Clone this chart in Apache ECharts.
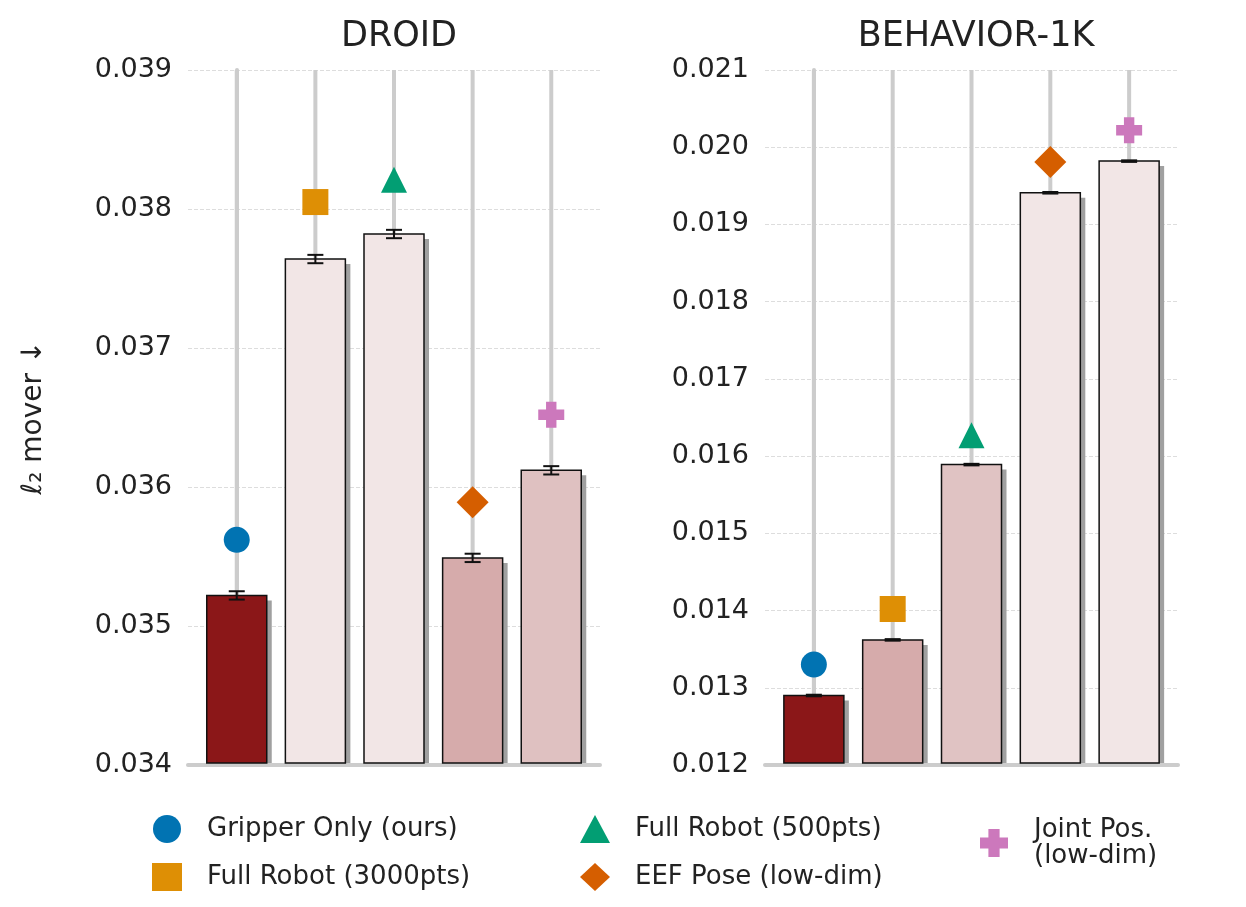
<!DOCTYPE html>
<html>
<head>
<meta charset="utf-8">
<script src="https://cdn.jsdelivr.net/npm/echarts@6/dist/echarts.min.js"></script>
<style>html,body{margin:0;padding:0;background:#fff}#main{width:1246px;height:907px}</style>
</head>
<body>
<div id="main"></div>
<script>
// 数据
var methods = ["Gripper Only (ours)", "Full Robot (3000pts)", "Full Robot (500pts)", "EEF Pose (low-dim)", "Joint Pos.\n(low-dim)"];
var markerColors = ["#0173b2", "#de8f05", "#029e73", "#d55e00", "#cc78bc"];
var markerSymbols = ["circle", "rect", "triangle", "diamond", "path://M3,0H7V3H10V7H7V10H3V7H0V3H3Z"];
var droidBars = [0.03522, 0.03764, 0.03782, 0.03549, 0.03612];
var droidErr = [0.00003, 0.00003, 0.00003, 0.00003, 0.00003];
var droidMarks = [0.03562, 0.03805, 0.03821, 0.03589, 0.03652];
var droidColors = ["#8b1718", "#f2e6e6", "#f2e6e6", "#d6abab", "#dfc1c1"];
var behBars = [0.01290, 0.01362, 0.01589, 0.01941, 0.01982];
var behErr = [0.00001, 0.00001, 0.00001, 0.00001, 0.00001];
var behMarks = [0.01330, 0.01402, 0.01627, 0.01981, 0.02022];
var behColors = ["#8b1718", "#d6abab", "#e0c3c3", "#f2e6e6", "#f2e6e6"];
var font = "DejaVu Sans";

var myChart = echarts.init(document.getElementById("main"));

function xAx(gi) {
  return {
    type: "value", gridIndex: gi, min: -0.62, max: 4.62,
    axisLabel: { show: false }, axisTick: { show: false }, splitLine: { show: false },
    axisLine: { show: true, lineStyle: { color: "#cccccc", width: 4 } }
  };
}
function yAx(gi, min, max, step, dec) {
  return {
    type: "value", gridIndex: gi, min: min, max: max, interval: step,
    axisLine: { show: true, lineStyle: { color: "#cccccc", width: 4 } },
    axisTick: { show: false },
    axisLabel: { fontSize: 27, color: "#222", fontFamily: font, margin: 16, formatter: function (v) { return v.toFixed(dec); } },
    splitLine: { show: true, lineStyle: { color: "#dddddd", type: "dashed", width: 1 } },
    name: gi === 0 ? "ℓ₂ mover ↓" : "", nameLocation: "middle", nameGap: 140, nameRotate: 90,
    nameTextStyle: { fontSize: 28, color: "#222", fontFamily: font }
  };
}

var series = [];
function addPanel(gi, bars, err, marks, colors, ymin) {
  // 竖向灰线
  series.push({
    type: "custom", xAxisIndex: gi, yAxisIndex: gi, z: 1, silent: true,
    data: bars.map(function (v, i) { return [i]; }),
    renderItem: function (p, api) {
      var pt = api.coord([api.value(0), ymin]);
      var cs = p.coordSys;
      return { type: "line", shape: { x1: pt[0], y1: cs.y, x2: pt[0], y2: cs.y + cs.height }, style: { stroke: "#cccccc", lineWidth: 4 } };
    }
  });
  // 柱子 + 阴影
  series.push({
    type: "custom", xAxisIndex: gi, yAxisIndex: gi, z: 3, silent: true,
    data: bars.map(function (v, i) { return [i, v]; }),
    renderItem: function (p, api) {
      var i = p.dataIndex;
      var top = api.coord([api.value(0), api.value(1)]);
      var bot = api.coord([api.value(0), ymin]);
      var w = 60, x = top[0] - w / 2, h = bot[1] - top[1];
      return { type: "group", children: [
        { type: "rect", shape: { x: x + 5, y: top[1] + 5, width: w, height: h - 7 }, style: { fill: "#a0a0a0" } },
        { type: "rect", shape: { x: x, y: top[1], width: w, height: h - 2 }, style: { fill: colors[i], stroke: "#111", lineWidth: 1.5 } }
      ] };
    }
  });
  series.push({
    type: "custom", xAxisIndex: gi, yAxisIndex: gi, z: 5, silent: true,
    data: bars.map(function (v, i) { return [i, v - err[i], v + err[i]]; }),
    renderItem: function (p, api) {
      var lo = api.coord([api.value(0), api.value(1)]);
      var hi = api.coord([api.value(0), api.value(2)]);
      var st = { stroke: "#111", lineWidth: 2 };
      return { type: "group", children: [
        { type: "line", shape: { x1: lo[0], y1: lo[1], x2: hi[0], y2: hi[1] }, style: st },
        { type: "line", shape: { x1: lo[0] - 8, y1: lo[1], x2: lo[0] + 8, y2: lo[1] }, style: st },
        { type: "line", shape: { x1: hi[0] - 8, y1: hi[1], x2: hi[0] + 8, y2: hi[1] }, style: st }
      ] };
    }
  });
  marks.forEach(function (m, i) {
    series.push({
      type: "scatter", name: methods[i], xAxisIndex: gi, yAxisIndex: gi, z: 6,
      symbol: markerSymbols[i], symbolSize: i === 3 ? 32 : 26,
      itemStyle: { color: markerColors[i], opacity: 1 },
      data: [[i, m]]
    });
  });
}
addPanel(0, droidBars, droidErr, droidMarks, droidColors, 0.034);
addPanel(1, behBars, behErr, behMarks, behColors, 0.012);

var legendBase = { orient: "vertical", itemWidth: 30, itemHeight: 28, itemGap: 20, textStyle: { fontSize: 26, color: "#222", fontFamily: font, padding: [0, 0, 0, 20] } };
var option = {
  animation: false,
  textStyle: { fontFamily: font },
  title: [
    { text: "DROID", left: 394, top: 14, textAlign: "center", textStyle: { fontSize: 35, fontWeight: "normal", color: "#222", fontFamily: font } },
    { text: "BEHAVIOR-1K", left: 971, top: 14, textAlign: "center", textStyle: { fontSize: 35, fontWeight: "normal", color: "#222", fontFamily: font } }
  ],
  grid: [
    { left: 188, top: 70, width: 412, height: 695 },
    { left: 765, top: 70, width: 413, height: 695 }
  ],
  xAxis: [xAx(0), xAx(1)],
  yAxis: [yAx(0, 0.034, 0.039, 0.001, 3), yAx(1, 0.012, 0.021, 0.001, 3)],
  legend: [
    Object.assign({ left: 147, top: 810, data: [methods[0], methods[1]] }, legendBase),
    Object.assign({ left: 575, top: 810, data: [methods[2], methods[3]] }, legendBase),
    Object.assign({ left: 975, top: 812, data: [methods[4]] }, legendBase)
  ],
  series: series
};
myChart.setOption(option);
</script>
</body>
</html>
